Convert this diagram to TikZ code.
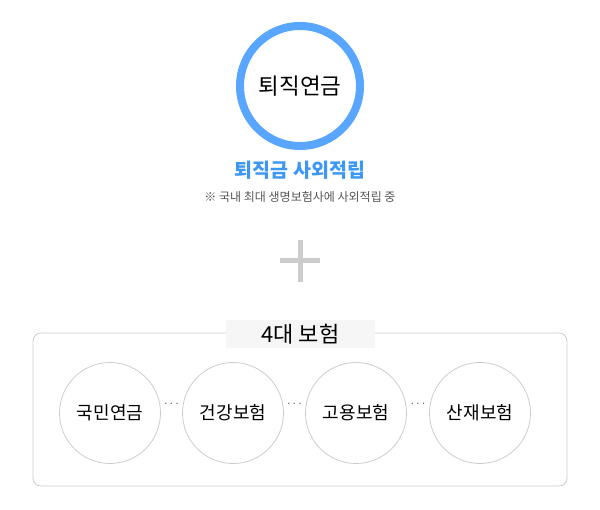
\documentclass[tikz,border=0pt]{standalone}
\usepackage{fontspec}
\setmainfont{Noto Sans CJK KR}
\definecolor{ringblue}{HTML}{58A6FF}
\definecolor{titleblue}{HTML}{3D97F5}
\definecolor{lgray}{HTML}{CCCCCC}
\definecolor{tgray}{HTML}{555555}
\definecolor{tagbg}{HTML}{F6F6F6}
\begin{document}
\begin{tikzpicture}[x=1pt,y=-1pt,
  smallcirc/.style={circle,draw=lgray,line width=0.8pt,minimum size=101pt,inner sep=0pt,font=\fontsize{18}{21}\selectfont,text=black},
  dotsep/.style={text=tgray,font=\fontsize{10}{12}\selectfont,inner sep=0pt}]
\useasboundingbox (0,0) rectangle (600,510);
\node[circle,draw=ringblue,line width=8pt,minimum size=120pt,inner sep=0pt,font=\fontsize{22.5}{26}\selectfont] (main) at (300,86) {퇴직연금};
\node[text=titleblue,font=\bfseries\fontsize{19.5}{23}\selectfont,inner sep=0pt] (sub) at (300,170) {퇴직금 사외적립};
\node[text=tgray,font=\fontsize{12}{14}\selectfont,inner sep=0pt] (note) at (300,197) {※ 국내 최대 생명보험사에 사외적립 중};
\draw[lgray,line width=5pt] (280,261) -- (320,261);
\draw[lgray,line width=5pt] (300,240) -- (300,282);
\draw[lgray,line width=0.8pt,rounded corners=8pt] (33,333) rectangle (567,486);
\node[fill=tagbg,minimum width=149pt,minimum height=28pt,inner sep=0pt,font=\fontsize{22}{26}\selectfont] (tag) at (300.5,334) {4대 보험};
\node[smallcirc] (c1) at (110,413) {국민연금};
\node[smallcirc] (c2) at (233,413) {건강보험};
\node[smallcirc] (c3) at (356,413) {고용보험};
\node[smallcirc] (c4) at (480,413) {산재보험};
\node[dotsep] (d1) at (171.5,405) {···};
\node[dotsep] (d2) at (294.5,405) {···};
\node[dotsep] (d3) at (418,405) {···};
\end{tikzpicture}
\end{document}
